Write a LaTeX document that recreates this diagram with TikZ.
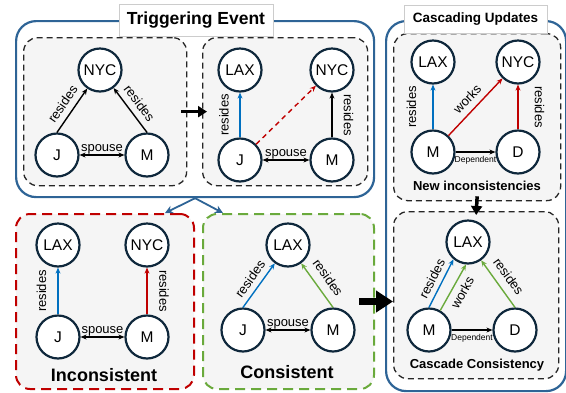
\documentclass[tikz,border=0pt]{standalone}
\usepackage{fontspec}
\setmainfont{Liberation Sans}
\usetikzlibrary{arrows.meta}

\definecolor{frameblue}{RGB}{46,100,150}
\definecolor{relblue}{RGB}{0,112,192}
\definecolor{relred}{RGB}{192,0,0}
\definecolor{relgreen}{RGB}{106,170,60}
\definecolor{ringnavy}{RGB}{15,40,60}
\definecolor{panelgray}{RGB}{245,245,245}

\tikzset{
	ent/.style={circle, draw=ringnavy, line width=2.2pt, fill=white, minimum size=43pt, inner sep=0pt, font=\fontsize{15.5}{15.5}\selectfont},
	rel/.style={-{Stealth[length=6pt,width=5pt]}, line width=1.4pt},
	both/.style={{Stealth[length=6pt,width=5pt]}-{Stealth[length=6pt,width=5pt]}, line width=1.4pt},
	lbl/.style={text=black, font=\fontsize{13}{13}\selectfont, inner xsep=1pt, inner ysep=6pt},
	deplbl/.style={text=black, font=\fontsize{8.5}{8.5}\selectfont, inner sep=1pt},
	panel/.style={draw=black!85, line width=1.3pt, dash pattern=on 6pt off 4pt, rounded corners=14pt, fill=panelgray, anchor=north west},
	bluebox/.style={draw=frameblue, line width=2.2pt, rounded corners=20pt, anchor=north west},
	titlebox/.style={draw=black!20, line width=0.6pt, fill=white, font=\bfseries},
	verdict/.style={font=\bfseries\fontsize{18}{18}\selectfont},
	subverdict/.style={font=\bfseries\fontsize{13}{13}\selectfont},
	thickarrow/.style={-{Triangle[length=9pt,width=11pt]}, line width=3.5pt},
	fatarrow/.style={-{Triangle[length=17pt,width=21pt]}, line width=7pt},
}

\begin{document}
\begin{tikzpicture}[x=1pt,y=-1pt]
	\useasboundingbox (0,0) rectangle (566,392);

	% outer frames
	\node[bluebox, minimum width=358pt, minimum height=176pt] (trig) at (15,20) {};
	\node[bluebox, minimum width=180pt, minimum height=370pt] (casc) at (385,20) {};

	% panels
	\node[panel, minimum width=163pt, minimum height=148pt] (p1) at (23,37) {};
	\node[panel, minimum width=165pt, minimum height=148pt] (p2) at (202,37) {};
	\node[panel, minimum width=167pt, minimum height=167pt] (p3) at (393,33) {};
	\node[panel, minimum width=165pt, minimum height=167pt] (p4) at (393,211) {};
	\node[panel, draw=relred, line width=2pt, dash pattern=on 10pt off 6pt, minimum width=178pt, minimum height=175pt] (inc) at (15,213) {};
	\node[panel, draw=relgreen, line width=2pt, dash pattern=on 10pt off 6pt, minimum width=171pt, minimum height=175pt] (con) at (202,213) {};

	% titles
	\node[titlebox, minimum width=154pt, minimum height=32pt, font=\bfseries\fontsize{17.5}{17.5}\selectfont] (trigtitle) at (196,20) {Triggering Event};
	\node[titlebox, minimum width=143pt, minimum height=28pt, font=\bfseries\fontsize{13.5}{13.5}\selectfont] (casctitle) at (475.5,19) {Cascading Updates};

	% flow between panels
	\draw[thickarrow] ([xshift=-6pt]p1.east) -- ([xshift=5pt]p2.west);
	\draw[thickarrow] ([yshift=5pt]p3.south) -- ([yshift=-4pt]p4.north);
	\draw[fatarrow] ([xshift=-16pt]con.east) -- (con.east -| p4.west);
	\draw[->, >={Stealth[length=8pt,width=8pt]}, draw=frameblue, line width=1.8pt] (trig.south) -- ([xshift=-30pt]inc.north east);
	\draw[->, >={Stealth[length=8pt,width=8pt]}, draw=frameblue, line width=1.8pt] (trig.south) -- ([xshift=21pt]con.north west);

	% panel 1: J and M both reside in NYC
	\node[ent] (nyc1) at (100,70) {NYC};
	\node[ent] (j1) at (57,155) {J};
	\node[ent] (m1) at (147,155) {M};
	\draw[rel] (j1.north) -- (nyc1) node[midway, sloped, above, lbl]{resides};
	\draw[rel] (m1.north) -- (nyc1) node[midway, sloped, above, lbl]{resides};
	\draw[both] (j1) -- (m1) node[midway, above, lbl, inner sep=0.5pt]{spouse};

	% panel 2: J moves to LAX
	\node[ent] (lax2) at (240,70) {LAX};
	\node[ent] (nyc2) at (332,70) {NYC};
	\node[ent] (j2) at (240,160) {J};
	\node[ent] (m2) at (332,160) {M};
	\draw[rel, color=relblue] (j2) -- (lax2) node[midway, rotate=90, anchor=south, lbl, inner ysep=10.5pt]{resides};
	\draw[rel, color=relred, dash pattern=on 5pt off 4pt] (j2) -- (nyc2);
	\draw[rel] (m2) -- (nyc2) node[midway, rotate=-90, anchor=south, lbl, inner ysep=11pt]{resides};
	\draw[both] (j2) -- (m2) node[midway, above, lbl, inner sep=0.5pt]{spouse};

	% panel 3: new inconsistencies
	\node[ent] (lax3) at (433,62) {LAX};
	\node[ent] (nyc3) at (518,62) {NYC};
	\node[ent] (m3) at (433,152) {M};
	\node[ent] (d3) at (518,152) {D};
	\draw[rel, color=relblue] (m3) -- (lax3) node[midway, rotate=90, anchor=south, lbl, inner ysep=16pt]{resides};
	\draw[rel, color=relred] (m3) -- (nyc3) node[midway, sloped, above, lbl]{works};
	\draw[rel, color=relred] (d3) -- (nyc3) node[midway, rotate=-90, anchor=south, lbl, inner ysep=16pt]{resides};
	\draw[rel] (m3) -- (d3) node[midway, below=3pt, deplbl]{Dependent};
	\node[subverdict] (newinc) at (477,186) {New inconsistencies};

	% panel 4: cascade consistency
	\node[ent] (lax4) at (468,242) {LAX};
	\node[ent] (m4) at (429,330) {M};
	\node[ent] (d4) at (515,330) {D};
	\draw[rel, color=relblue] (m4.90) -- (lax4.230) node[midway, sloped, above, lbl, inner ysep=5pt]{resides};
	\draw[rel, color=relgreen] (m4.60) -- (lax4.265) node[midway, sloped, below, lbl, inner ysep=5pt]{works};
	\draw[rel, color=relgreen] (d4.north) -- (lax4) node[midway, sloped, above, lbl, inner ysep=7.5pt]{resides};
	\draw[rel] (m4) -- (d4) node[midway, below=3pt, deplbl]{Dependent};
	\node[subverdict] (cascon) at (477,365) {Cascade Consistency};

	% inconsistent outcome
	\node[ent] (lax5) at (58,245) {LAX};
	\node[ent] (nyc5) at (147,245) {NYC};
	\node[ent] (j5) at (58,337) {J};
	\node[ent] (m5) at (147,337) {M};
	\draw[rel, color=relblue] (j5) -- (lax5) node[midway, rotate=90, anchor=south, lbl, inner ysep=11pt]{resides};
	\draw[rel, color=relred] (m5) -- (nyc5) node[midway, rotate=-90, anchor=south, lbl, inner ysep=11.5pt]{resides};
	\draw[both] (j5) -- (m5) node[midway, above, lbl, inner sep=0.5pt]{spouse};
	\node[verdict] (inctext) at (104,375) {Inconsistent};

	% consistent outcome
	\node[ent] (lax6) at (288,245) {LAX};
	\node[ent] (j6) at (243,330) {J};
	\node[ent] (m6) at (333,330) {M};
	\draw[rel, color=relblue] (j6.north) -- (lax6) node[midway, sloped, above, lbl, inner ysep=5.5pt]{resides};
	\draw[rel, color=relgreen] (m6.north) -- (lax6) node[midway, sloped, above, lbl, inner ysep=8pt]{resides};
	\draw[both] (j6) -- (m6) node[midway, above, lbl, inner sep=0.5pt]{spouse};
	\node[verdict] (context) at (287,372) {Consistent};
\end{tikzpicture}
\end{document}
